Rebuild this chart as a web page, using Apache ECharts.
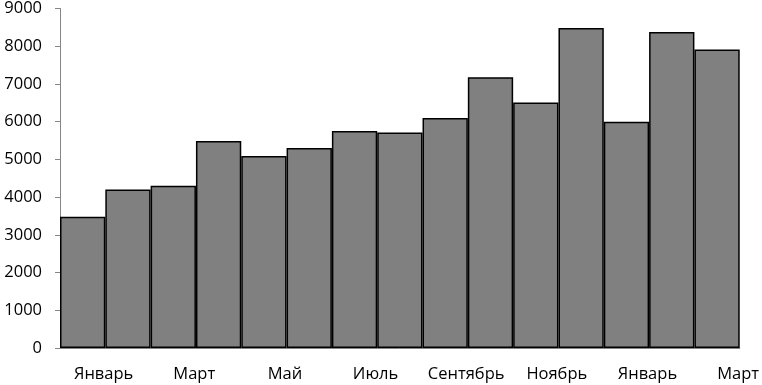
<!DOCTYPE html>
<html>
<head>
<meta charset="utf-8">
<script src="https://cdn.jsdelivr.net/npm/echarts@6/dist/echarts.min.js"></script>
<style>
  html, body { margin: 0; padding: 0; background: #fff; }
  #chart { width: 762px; height: 385px; }
</style>
</head>
<body>
<div id="chart"></div>
<script>
// месяцы
let months = ['Январь', 'Февраль', 'Март', 'Апрель', 'Май', 'Июнь', 'Июль', 'Август',
    'Сентябрь', 'Октябрь', 'Ноябрь', 'Декабрь', 'Январь', 'Февраль', 'Март'];
// значения
let values = [3480, 4200, 4300, 5490, 5090, 5300, 5750, 5710, 6100, 7180, 6510, 8480, 6000, 8380, 7910];
let yTicks = [0, 1000, 2000, 3000, 4000, 5000, 6000, 7000, 8000, 9000];

let chart = echarts.init(document.getElementById('chart'), null, { renderer: 'canvas' });

const option = {
    animation: false,
    grid: {
        left: 60,
        right: 22,
        top: 7,
        bottom: 37
    },
    xAxis: {
        type: 'category',
        data: months,
        axisTick: { show: false },
        axisLine: { lineStyle: { color: '#868686', width: 1 } },
        axisLabel: {
            interval: 1,
            color: '#000',
            fontFamily: 'Open Sans',
            fontSize: 16.5,
            margin: 18,
            padding: [0, 0, 0, 42]
        }
    },
    yAxis: {
        type: 'value',
        min: yTicks[0],
        max: yTicks[yTicks.length - 1],
        interval: 1000,
        splitLine: { show: false },
        axisLine: { show: true, lineStyle: { color: '#868686', width: 1 } },
        axisTick: { show: true, length: 5, lineStyle: { color: '#868686' } },
        axisLabel: {
            color: '#000',
            fontFamily: 'Open Sans',
            fontSize: 16.5,
            margin: 18,
            formatter: v => String(v)
        }
    },
    series: [
        {
            type: 'bar',
            data: values,
            barCategoryGap: 0,
            itemStyle: {
                color: '#808080',
                borderColor: '#000',
                borderWidth: 1.5
            }
        }
    ]
};
chart.setOption(option);
</script>
</body>
</html>
